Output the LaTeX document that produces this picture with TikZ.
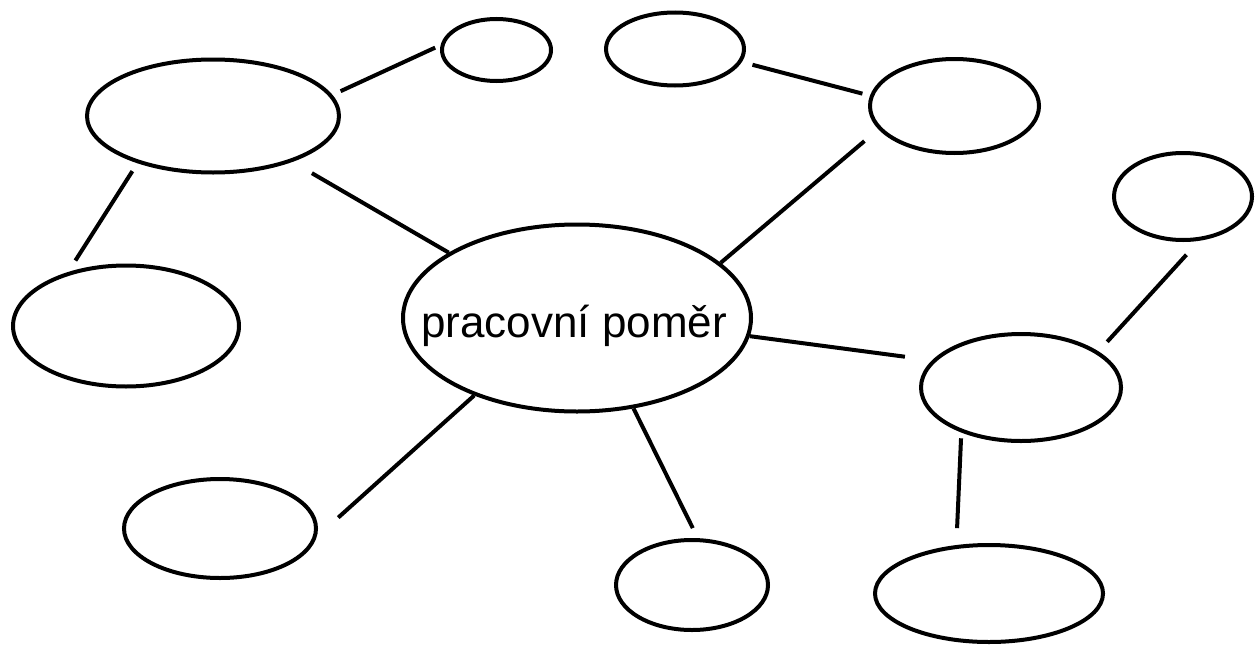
\documentclass[tikz,border=0pt]{standalone}
\usepackage{fontspec}
\setmainfont{Liberation Sans}
\usetikzlibrary{shapes.geometric}

\begin{document}
\begin{tikzpicture}[x=1pt,y=-1pt,
	bubble/.style={ellipse,draw,line width=4pt,inner sep=0pt},
	link/.style={draw,line width=4pt}]

	\useasboundingbox (0,0) rectangle (1257,645);

	\node[bubble,minimum width=348pt,minimum height=187pt] (main) at (577,318) {};
	\node[font=\fontsize{44}{50}\selectfont,anchor=base] (title) at (574,337) {pracovní poměr};

	\node[bubble,minimum width=252pt,minimum height=113pt] (tl) at (213,116) {};
	\node[bubble,minimum width=109pt,minimum height=62pt] (sa) at (496.5,50) {};
	\node[bubble,minimum width=138pt,minimum height=73pt] (sb) at (675,49) {};
	\node[bubble,minimum width=169pt,minimum height=94pt] (tr) at (954.5,106) {};
	\node[bubble,minimum width=138pt,minimum height=87pt] (fr) at (1183,196.5) {};
	\node[bubble,minimum width=226pt,minimum height=121pt] (l) at (126,326) {};
	\node[bubble,minimum width=200pt,minimum height=107pt] (rm) at (1021,387.5) {};
	\node[bubble,minimum width=192pt,minimum height=99pt] (bl) at (220,528.5) {};
	\node[bubble,minimum width=152pt,minimum height=90pt] (bm) at (692,585) {};
	\node[bubble,minimum width=228pt,minimum height=97pt] (br) at (989,593.5) {};

	\path (tl.10.9) edge[link, shorten <=9pt, shorten >=6pt] (sa.175.4)
	(tl.-30.4) edge[link, shorten <=22.5pt] (main.153)
	(tl.212.3) edge[link, shorten <=9.4pt, shorten >=13.6pt] (l.137)
	(sb.-11.6) edge[link, shorten <=11pt, shorten >=7.8pt] (tr.173.8)
	(tr.197.6) edge[link, shorten <=18.3pt] (main.21)
	(main.-6) edge[link, shorten >=27.4pt] (rm.163.8)
	(rm.25.8) edge[link, shorten <=13pt, shorten >=18.9pt] (fr.-70.9)
	(rm.217.1) edge[link, shorten <=5.8pt, shorten >=16.9pt] (br.124.4)
	(main.217) edge[link, shorten >=29pt] (bl.-5.4)
	(main.-58) edge[link, shorten >=11.2pt] (bm.83.8);
\end{tikzpicture}
\end{document}
